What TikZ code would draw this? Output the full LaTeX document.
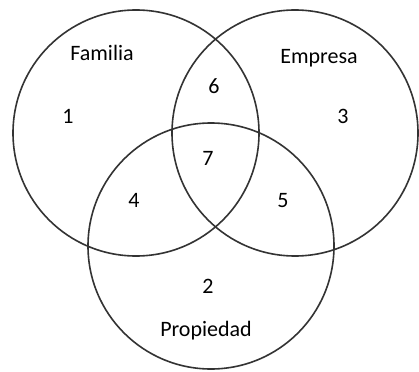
\documentclass[tikz,border=0pt]{standalone}
\usepackage{fontspec}
\setmainfont{Carlito}
\tikzset{set/.style={draw=black!80, line width=1.6pt, circle, minimum size=246pt, inner sep=0pt},
  lbl/.style={anchor=base, inner sep=0pt, font=\fontsize{22}{26}\selectfont}}

\begin{document}
\begin{tikzpicture}[x=1pt,y=-1pt]
  \useasboundingbox (0,0) rectangle (419,371);
  \node [set] (familia)   at (136,133) {};
  \node [set] (empresa)   at (295,133) {};
  \node [set] (propiedad) at (211,246) {};
  \node [lbl] (tfam)  at (102,61)  {Familia};
  \node [lbl] (temp)  at (319,64)  {Empresa};
  \node [lbl] (tprop) at (206,336) {Propiedad};
  \node [lbl] (r1) at (68,124)  {1};
  \node [lbl] (r2) at (208,293) {2};
  \node [lbl] (r3) at (343,124) {3};
  \node [lbl] (r4) at (134,207) {4};
  \node [lbl] (r5) at (283,207) {5};
  \node [lbl] (r6) at (214,94)  {6};
  \node [lbl] (r7) at (208,165) {7};
    \end{tikzpicture}
\end{document}
